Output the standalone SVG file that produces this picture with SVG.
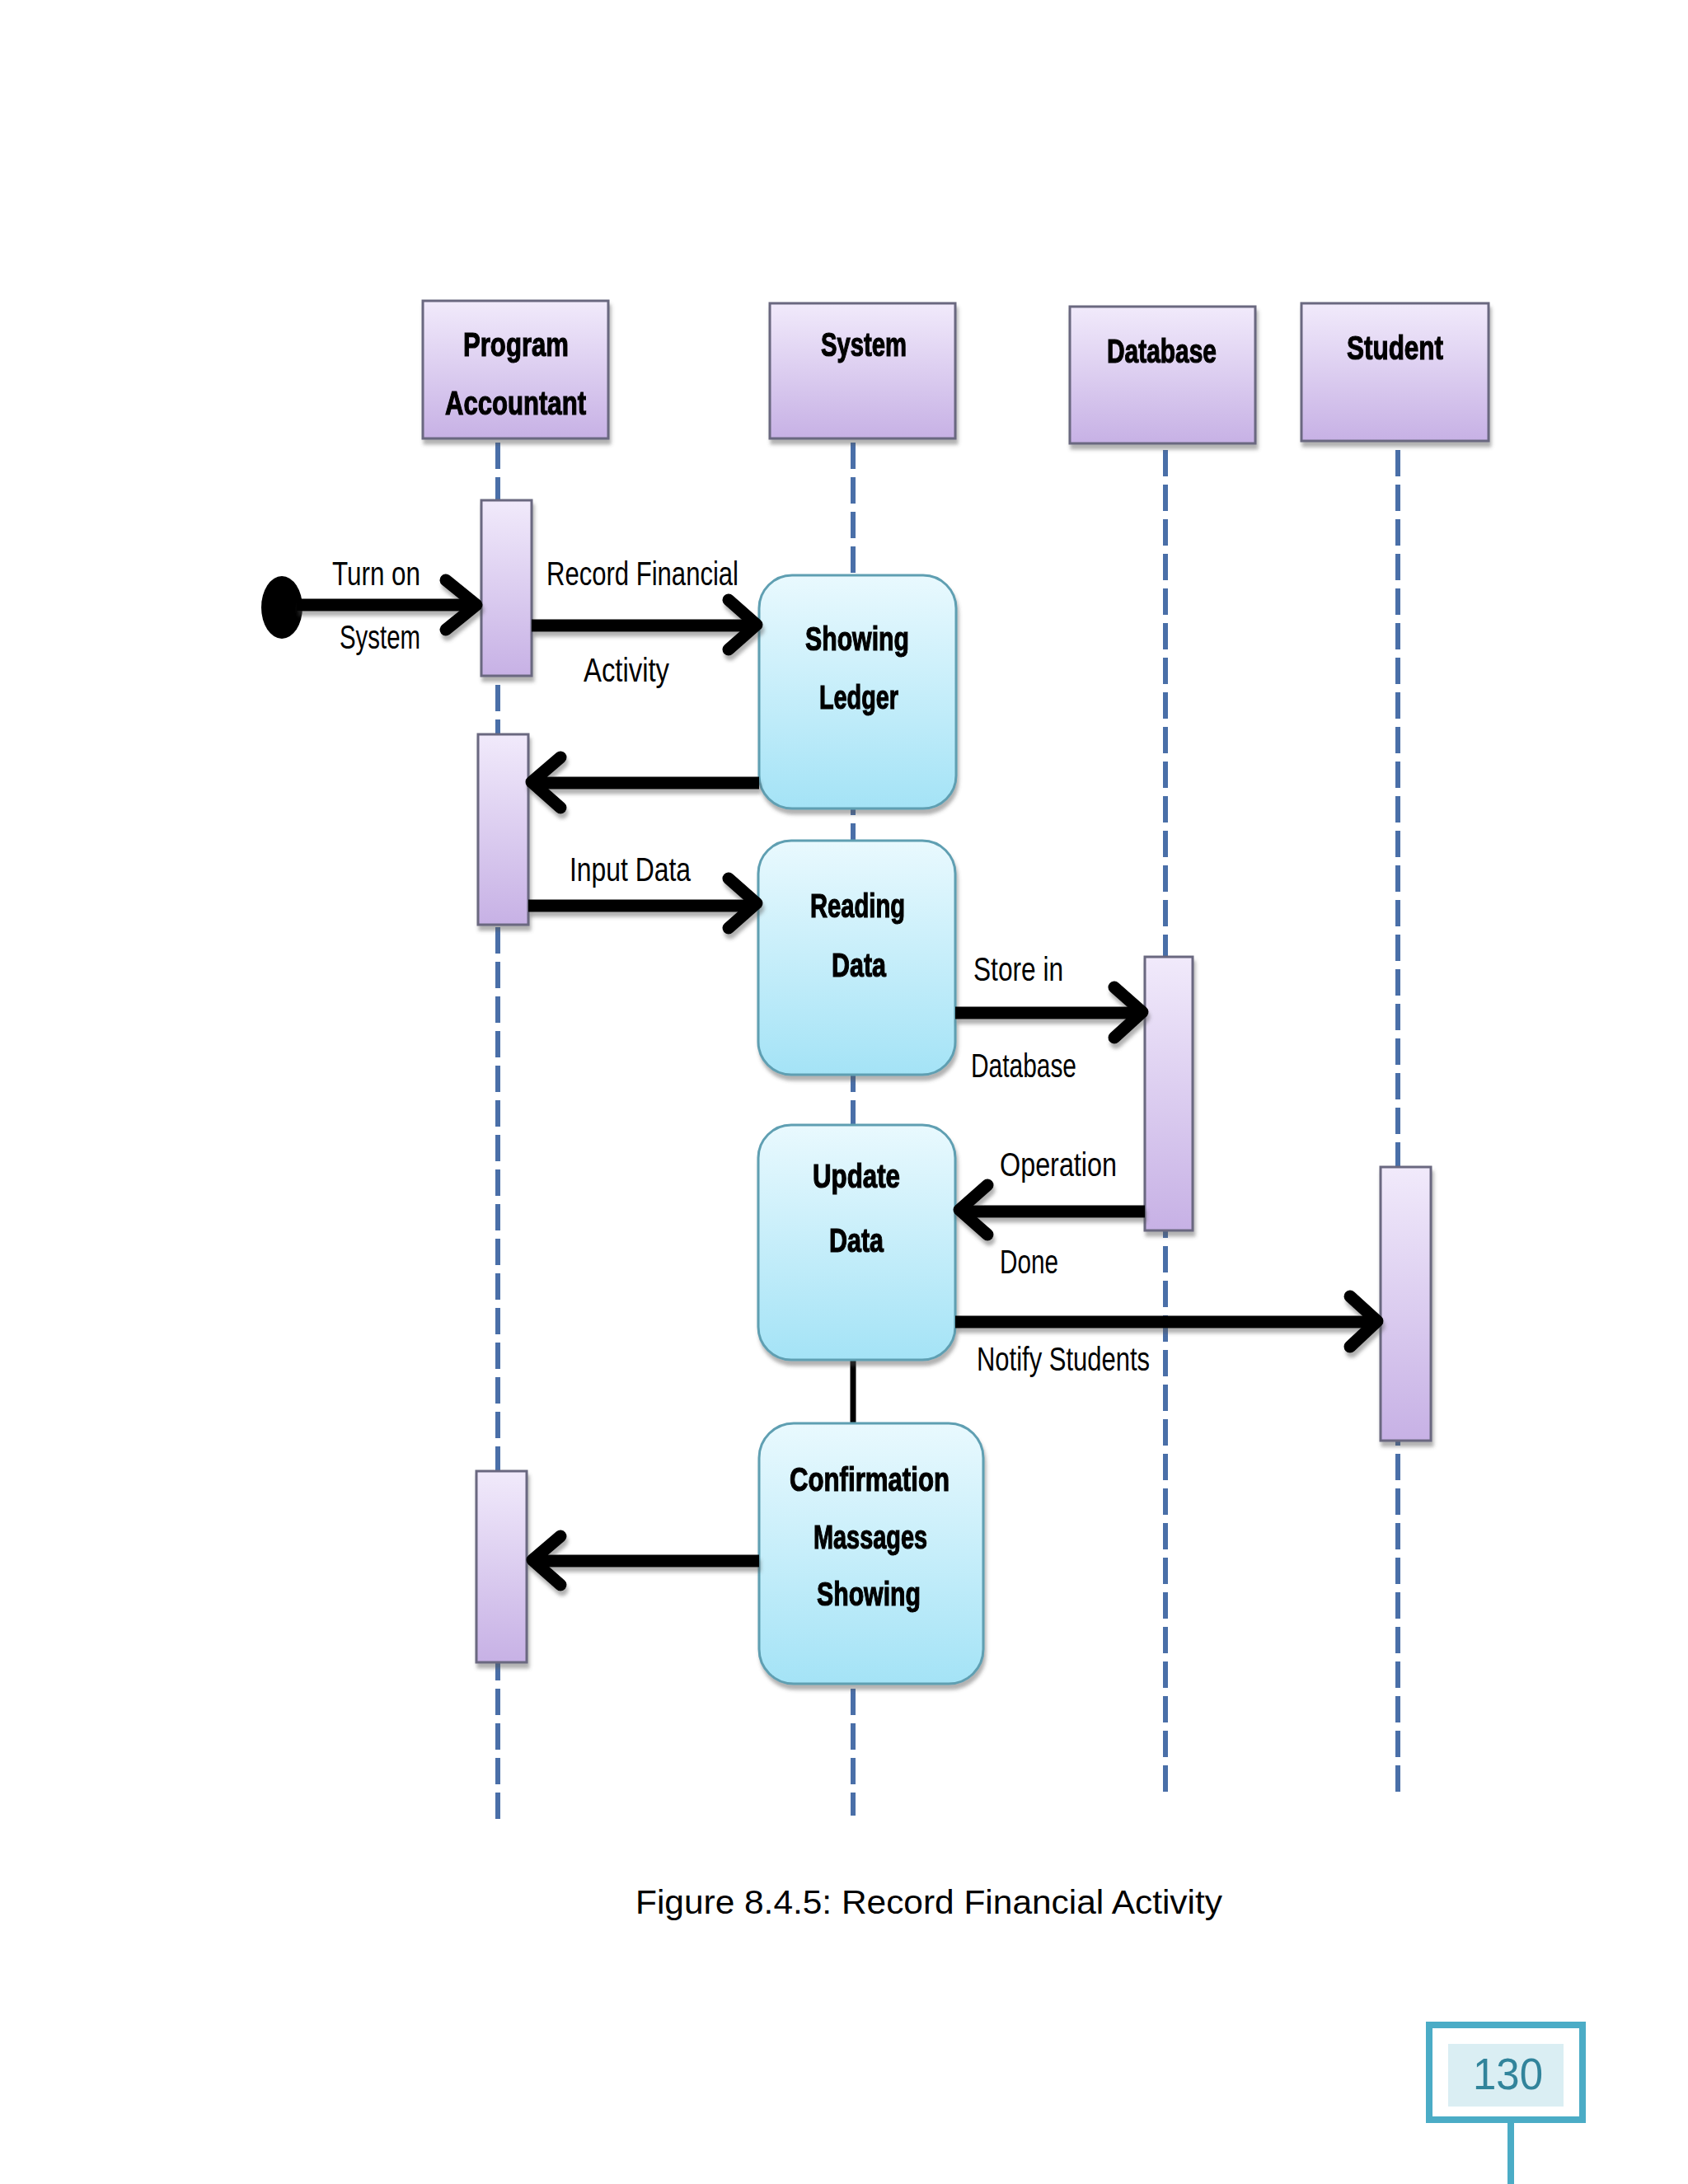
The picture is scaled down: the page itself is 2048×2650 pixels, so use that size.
<svg xmlns="http://www.w3.org/2000/svg" width="2048" height="2650" viewBox="0 0 2048 2650">
<defs>
<linearGradient id="lav" x1="0" y1="0" x2="0" y2="1"><stop offset="0" stop-color="#f1eafb"/><stop offset="1" stop-color="#c7b1e5"/></linearGradient>
<linearGradient id="cyan" x1="0" y1="0" x2="0" y2="1"><stop offset="0" stop-color="#e9f9fe"/><stop offset="1" stop-color="#a4e3f6"/></linearGradient>
<filter id="sh" x="-20%" y="-20%" width="140%" height="140%"><feDropShadow dx="2" dy="6" stdDeviation="2" flood-color="#555" flood-opacity="0.45"/></filter>
</defs>
<style>
.hdr{fill:url(#lav);stroke:#6b6880;stroke-width:3}
.bar{fill:url(#lav);stroke:#6b6880;stroke-width:3}
.rnd{fill:url(#cyan);stroke:#5f9fb2;stroke-width:3}
.life{stroke:#4a6fa8;stroke-width:6;stroke-dasharray:32 10;fill:none}
.arr{stroke:#000;stroke-width:15;fill:none;stroke-linejoin:round;stroke-linecap:butt}
.hd{stroke:#000;stroke-width:15;fill:none;stroke-linejoin:round;stroke-linecap:round}
.bt{font-family:"Liberation Sans",Arial,sans-serif;font-weight:bold;font-size:41px;fill:#000;stroke:#000;stroke-width:1.2;text-anchor:start}
.lt{font-family:"Liberation Sans",Arial,sans-serif;font-size:40px;fill:#000}
</style>
<rect width="2048" height="2650" fill="#fff"/>

<g id="lifelines">
<line class="life" x1="604" y1="537" x2="604" y2="2208"/>
<line class="life" x1="1035" y1="537" x2="1035" y2="2203"/>
<line class="life" x1="1414" y1="546" x2="1414" y2="2183"/>
<line class="life" x1="1696" y1="546" x2="1696" y2="2183"/>
<line x1="1035" y1="1648" x2="1035" y2="1729" stroke="#000" stroke-width="7"/>
</g>

<g id="program-accountant" filter="url(#sh)">
<rect class="hdr" x="513" y="365" width="225" height="167"/>
<text class="bt" x="562" y="432" textLength="128" lengthAdjust="spacingAndGlyphs">Program</text>
<text class="bt" x="540" y="503" textLength="171" lengthAdjust="spacingAndGlyphs">Accountant</text>
</g>
<g id="system" filter="url(#sh)">
<rect class="hdr" x="934" y="368" width="225" height="164"/>
<text class="bt" x="996" y="432" textLength="104" lengthAdjust="spacingAndGlyphs">System</text>
</g>
<g id="database" filter="url(#sh)">
<rect class="hdr" x="1298" y="372" width="225" height="166"/>
<text class="bt" x="1343" y="440" textLength="133" lengthAdjust="spacingAndGlyphs">Database</text>
</g>
<g id="student" filter="url(#sh)">
<rect class="hdr" x="1579" y="368" width="227" height="167"/>
<text class="bt" x="1634" y="436" textLength="117" lengthAdjust="spacingAndGlyphs">Student</text>
</g>

<g id="activations" filter="url(#sh)">
<rect class="bar" x="584" y="607" width="61" height="213"/>
<rect class="bar" x="580" y="891" width="61" height="231"/>
<rect class="bar" x="578" y="1785" width="61" height="232"/>
<rect class="bar" x="1389" y="1161" width="58" height="332"/>
<rect class="bar" x="1675" y="1416" width="61" height="332"/>
</g>

<g id="showing-ledger" filter="url(#sh)">
<rect class="rnd" x="921" y="698" width="239" height="283" rx="40"/>
<text class="bt" x="977" y="789" textLength="126" lengthAdjust="spacingAndGlyphs">Showing</text>
<text class="bt" x="994" y="860" textLength="96" lengthAdjust="spacingAndGlyphs">Ledger</text>
</g>
<g id="reading-data" filter="url(#sh)">
<rect class="rnd" x="920" y="1020" width="239" height="284" rx="40"/>
<text class="bt" x="983" y="1113" textLength="115" lengthAdjust="spacingAndGlyphs">Reading</text>
<text class="bt" x="1009" y="1185" textLength="66" lengthAdjust="spacingAndGlyphs">Data</text>
</g>
<g id="update-data" filter="url(#sh)">
<rect class="rnd" x="920" y="1365" width="239" height="285" rx="40"/>
<text class="bt" x="986" y="1441" textLength="106" lengthAdjust="spacingAndGlyphs">Update</text>
<text class="bt" x="1006" y="1519" textLength="66" lengthAdjust="spacingAndGlyphs">Data</text>
</g>
<g id="confirmation" filter="url(#sh)">
<rect class="rnd" x="921" y="1727" width="272" height="316" rx="42"/>
<text class="bt" x="958" y="1809" textLength="194" lengthAdjust="spacingAndGlyphs">Confirmation</text>
<text class="bt" x="987" y="1879" textLength="138" lengthAdjust="spacingAndGlyphs">Massages</text>
<text class="bt" x="991" y="1948" textLength="126" lengthAdjust="spacingAndGlyphs">Showing</text>
</g>

<g id="start">
<ellipse cx="342" cy="737" rx="25" ry="38" fill="#000"/>
</g>

<g id="connectors" filter="url(#sh)">
<path class="arr" d="M360,734 H574"/><path class="hd" d="M541,704 L578,734 L541,764"/>
<path class="arr" d="M645,759 H912"/><path class="hd" d="M884,728 L918,758 L884,788"/>
<path class="arr" d="M921,950 H652"/><path class="hd" d="M680,919 L645,949 L680,980"/>
<path class="arr" d="M641,1099 H912"/><path class="hd" d="M884,1066 L918,1096 L884,1126"/>
<path class="arr" d="M1159,1229 H1380"/><path class="hd" d="M1352,1198 L1386,1228 L1352,1259"/>
<path class="arr" d="M1389,1470 H1170"/><path class="hd" d="M1198,1438 L1164,1468 L1198,1498"/>
<path class="arr" d="M1159,1604 H1665"/><path class="hd" d="M1638,1573 L1671,1603 L1638,1634"/>
<path class="arr" d="M921,1894 H652"/><path class="hd" d="M680,1864 L646,1893 L680,1923"/>
</g>

<g id="labels">
<text class="lt" x="403" y="710" textLength="107" lengthAdjust="spacingAndGlyphs">Turn on</text>
<text class="lt" x="412" y="787" textLength="98" lengthAdjust="spacingAndGlyphs">System</text>
<text class="lt" x="663" y="710" textLength="233" lengthAdjust="spacingAndGlyphs">Record Financial</text>
<text class="lt" x="708" y="827" textLength="104" lengthAdjust="spacingAndGlyphs">Activity</text>
<text class="lt" x="691" y="1069" textLength="147" lengthAdjust="spacingAndGlyphs">Input Data</text>
<text class="lt" x="1181" y="1190" textLength="109" lengthAdjust="spacingAndGlyphs">Store in</text>
<text class="lt" x="1178" y="1307" textLength="128" lengthAdjust="spacingAndGlyphs">Database</text>
<text class="lt" x="1213" y="1427" textLength="142" lengthAdjust="spacingAndGlyphs">Operation</text>
<text class="lt" x="1213" y="1545" textLength="71" lengthAdjust="spacingAndGlyphs">Done</text>
<text class="lt" x="1185" y="1663" textLength="210" lengthAdjust="spacingAndGlyphs">Notify Students</text>
</g>

<g id="caption">
<text class="lt" x="771" y="2322" font-size="42" textLength="712" lengthAdjust="spacingAndGlyphs">Figure 8.4.5: Record Financial Activity</text>
</g>

<g id="page-number">
<line x1="1833" y1="2576" x2="1833" y2="2650" stroke="#4bacc6" stroke-width="8"/>
<rect x="1734" y="2457" width="186" height="115" fill="#fff" stroke="#4bacc6" stroke-width="8"/>
<rect x="1757" y="2480" width="140" height="76" fill="#daeef3"/>
<text x="1787" y="2535" font-family="Liberation Sans,Arial,sans-serif" font-size="53" fill="#31849b" textLength="85" lengthAdjust="spacingAndGlyphs">130</text>
</g>
</svg>
